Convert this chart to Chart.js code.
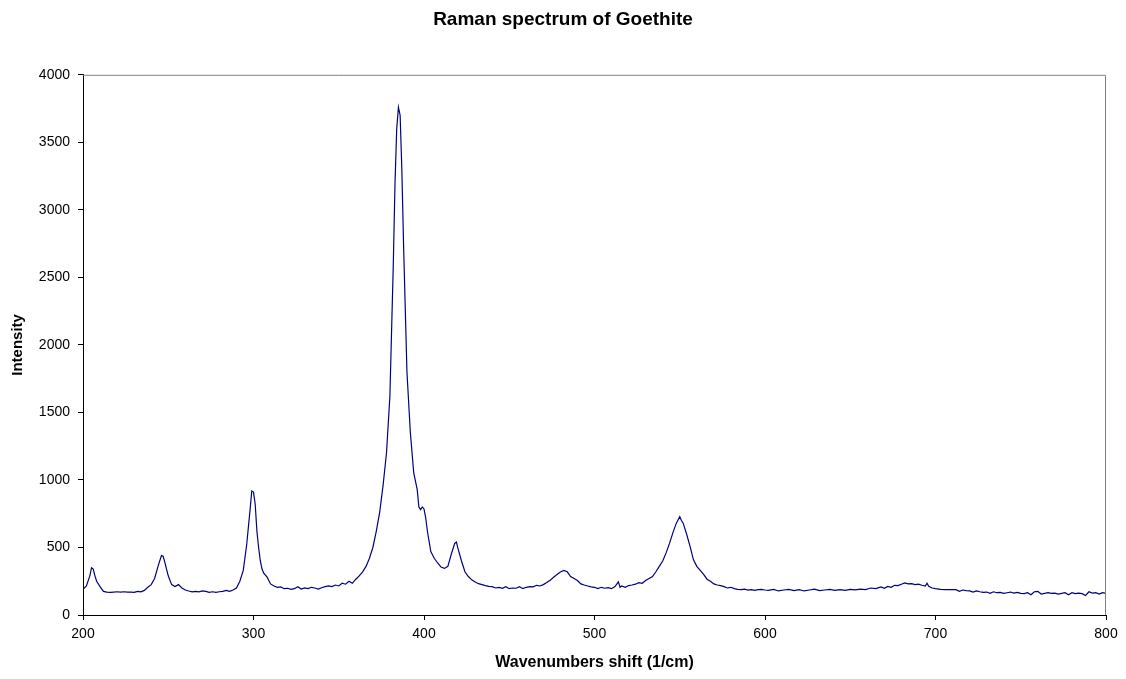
<!DOCTYPE html>
<html>
<head>
<meta charset="utf-8">
<title>Raman spectrum of Goethite</title>
<script src="https://cdn.jsdelivr.net/npm/chart.js@4.4.1/dist/chart.umd.min.js"></script>
<style>
  html, body { margin: 0; padding: 0; background: #fff; }
  #wrap { width: 1126px; height: 679px; }
</style>
</head>
<body>
<div id="wrap"><canvas id="ramanChart" width="1126" height="679"></canvas></div>
<script>
// Data
const wavenumbers = [
  200, 202, 204, 205, 206, 207, 208, 210, 212, 214, 216, 218, 220, 222, 224, 226, 228, 230, 232, 234,
  236, 238, 240, 242, 244, 246, 247, 248, 250, 252, 254, 256, 258, 260, 262, 264, 266, 268, 270, 272,
  274, 276, 278, 280, 282, 284, 286, 288, 290, 292, 294, 296, 298, 299, 300, 301, 302, 303, 304, 305,
  306, 308, 310, 312, 314, 316, 318, 320, 322, 324, 326, 328, 330, 332, 334, 336, 338, 340, 342, 344,
  346, 348, 350, 352, 354, 356, 358, 360, 362, 364, 366, 368, 370, 372, 374, 376, 378, 380, 382, 383,
  384, 385, 386, 387, 388, 390, 392, 394, 396, 397, 398, 399, 400, 401, 402, 404, 406, 408, 410, 412,
  414, 416, 418, 419, 420, 422, 424, 426, 428, 430, 432, 434, 436, 438, 440, 442, 444, 446, 448, 450,
  452, 454, 456, 458, 460, 462, 464, 466, 468, 470, 472, 474, 476, 478, 480, 482, 484, 486, 488, 490,
  492, 494, 496, 498, 500, 502, 504, 506, 508, 510, 512, 514, 515, 516, 518, 520, 522, 524, 526, 528,
  530, 532, 534, 536, 538, 540, 542, 544, 546, 548, 550, 551, 552, 554, 556, 558, 560, 562, 564, 566,
  568, 570, 572, 574, 576, 578, 580, 582, 584, 586, 588, 590, 592, 594, 596, 598, 600, 602, 605, 608,
  611, 614, 617, 620, 623, 626, 629, 632, 635, 638, 641, 644, 647, 650, 653, 656, 659, 662, 665, 668,
  670, 672, 674, 676, 678, 680, 682, 684, 686, 688, 690, 692, 694, 695, 696, 698, 700, 703, 706, 709,
  712, 714, 716, 718, 720, 722, 724, 726, 728, 730, 732, 734, 736, 738, 740, 742, 744, 746, 748, 750,
  752, 754, 756, 758, 760, 762, 764, 766, 768, 770, 772, 774, 776, 778, 780, 782, 784, 786, 788, 790,
  792, 794, 796, 798, 800
];
const intensity = [
  190, 215, 290, 350, 340, 290, 250, 210, 175, 170, 168, 170, 172, 170, 172, 170, 170, 168, 175, 172,
  182, 205, 225, 270, 360, 440, 435, 390, 290, 225, 210, 225, 200, 185, 178, 172, 175, 172, 178, 175,
  168, 172, 168, 172, 175, 182, 175, 185, 200, 250, 330, 520, 780, 918, 910, 820, 620, 500, 400, 340,
  310, 280, 230, 215, 205, 208, 195, 198, 190, 195, 210, 192, 200, 195, 205, 200, 192, 202, 210, 215,
  210, 222, 215, 235, 228, 250, 235, 265, 290, 320, 360, 420, 500, 620, 760, 960, 1200, 1620, 2600, 3200,
  3600, 3760, 3700, 3300, 2750, 1800, 1350, 1050, 930, 800, 780, 800, 785, 720, 620, 470, 420, 385, 355, 345,
  360, 450, 530, 540, 490, 400, 320, 285, 260, 245, 232, 225, 218, 212, 210, 200, 205, 198, 210, 195,
  200, 198, 210, 195, 205, 210, 208, 220, 215, 225, 240, 258, 280, 300, 318, 330, 320, 285, 270, 255,
  230, 222, 215, 208, 205, 195, 205, 198, 202, 195, 210, 245, 205, 215, 205, 218, 222, 228, 240, 235,
  255, 270, 285, 320, 360, 400, 460, 530, 610, 680, 728, 700, 680, 600, 510, 410, 360, 330, 300, 265,
  250, 230, 222, 218, 210, 200, 205, 195, 190, 188, 192, 185, 188, 182, 188, 190, 185, 182, 190, 178,
  185, 190, 180, 188, 178, 185, 192, 180, 185, 190, 182, 188, 183, 190, 186, 192, 188, 200, 195, 208,
  198, 212, 205, 220, 218, 228, 238, 230, 232, 225, 228, 220, 215, 235, 212, 200, 195, 190, 188, 188,
  188, 175, 185, 180, 178, 170, 178, 172, 168, 170, 160, 172, 165, 168, 160, 165, 170, 162, 168, 160,
  158, 165, 150, 172, 175, 155, 160, 165, 160, 162, 155, 160, 165, 150, 165, 158, 162, 158, 145, 172,
  162, 165, 155, 165, 160
];
const xTicks = [200, 300, 400, 500, 600, 700, 800];
const yTicks = [0, 500, 1000, 1500, 2000, 2500, 3000, 3500, 4000];

const points = wavenumbers.map((w, i) => ({ x: w, y: intensity[i] }));

// grey top/right frame like the Excel plot area
const plotFrame = {
  id: "plotFrame",
  afterDraw(chart) {
    const { ctx, chartArea: a } = chart;
    ctx.save();
    ctx.strokeStyle = "#808080";
    ctx.lineWidth = 1;
    ctx.beginPath();
    ctx.moveTo(a.left, a.top + 0.5);
    ctx.lineTo(a.right - 0.5, a.top + 0.5);
    ctx.lineTo(a.right - 0.5, a.bottom);
    ctx.stroke();
    ctx.restore();
  }
};

Chart.defaults.font.family = "'Liberation Sans', Arial, sans-serif";
Chart.defaults.color = "#000";

new Chart(document.getElementById("ramanChart"), {
  type: "scatter",
  data: {
    datasets: [{
      label: "Goethite",
      data: points,
      showLine: true,
      borderColor: "#000080",
      backgroundColor: "#000080",
      borderWidth: 1.2,
      pointRadius: 0,
      tension: 0
    }]
  },
  options: {
    responsive: false,
    animation: false,
    layout: { padding: 0 },
    plugins: {
      legend: { display: false },
      tooltip: { enabled: false },
      title: {
        display: true,
        text: "Raman spectrum of Goethite",
        font: { size: 19, weight: "bold" },
        color: "#000",
        padding: { top: 8, bottom: 44 }
      }
    },
    scales: {
      x: {
        type: "linear",
        min: 200,
        max: 800,
        afterBuildTicks: s => { s.ticks = xTicks.map(v => ({ value: v })); },
        afterFit: s => { s.height = 64; },
        border: { display: true, color: "#000", width: 1 },
        grid: { drawOnChartArea: false, drawTicks: true, tickLength: 5, color: "#000" },
        ticks: { font: { size: 14 }, padding: 6, maxRotation: 0, callback: v => String(v) },
        title: {
          display: true,
          text: "Wavenumbers shift (1/cm)",
          font: { size: 16, weight: "bold" },
          padding: { top: 4, bottom: 7 }
        }
      },
      y: {
        type: "linear",
        min: 0,
        max: 4000,
        afterBuildTicks: s => { s.ticks = yTicks.map(v => ({ value: v })); },
        afterFit: s => { s.width = 83; },
        border: { display: true, color: "#000", width: 1 },
        grid: { drawOnChartArea: false, drawTicks: true, tickLength: 5, color: "#000" },
        ticks: { font: { size: 14 }, padding: 8, callback: v => String(v) },
        title: {
          display: true,
          text: "Intensity",
          font: { size: 15, weight: "bold" },
          padding: { top: 9, bottom: 0 }
        }
      },
      // empty right-hand spacer so the plot ends where the reference does
      yRight: {
        type: "linear",
        position: "right",
        min: 0,
        max: 4000,
        afterFit: s => { s.width = 20; },
        border: { display: false },
        grid: { display: false },
        ticks: { display: false }
      }
    }
  },
  plugins: [plotFrame]
});
</script>
</body>
</html>
